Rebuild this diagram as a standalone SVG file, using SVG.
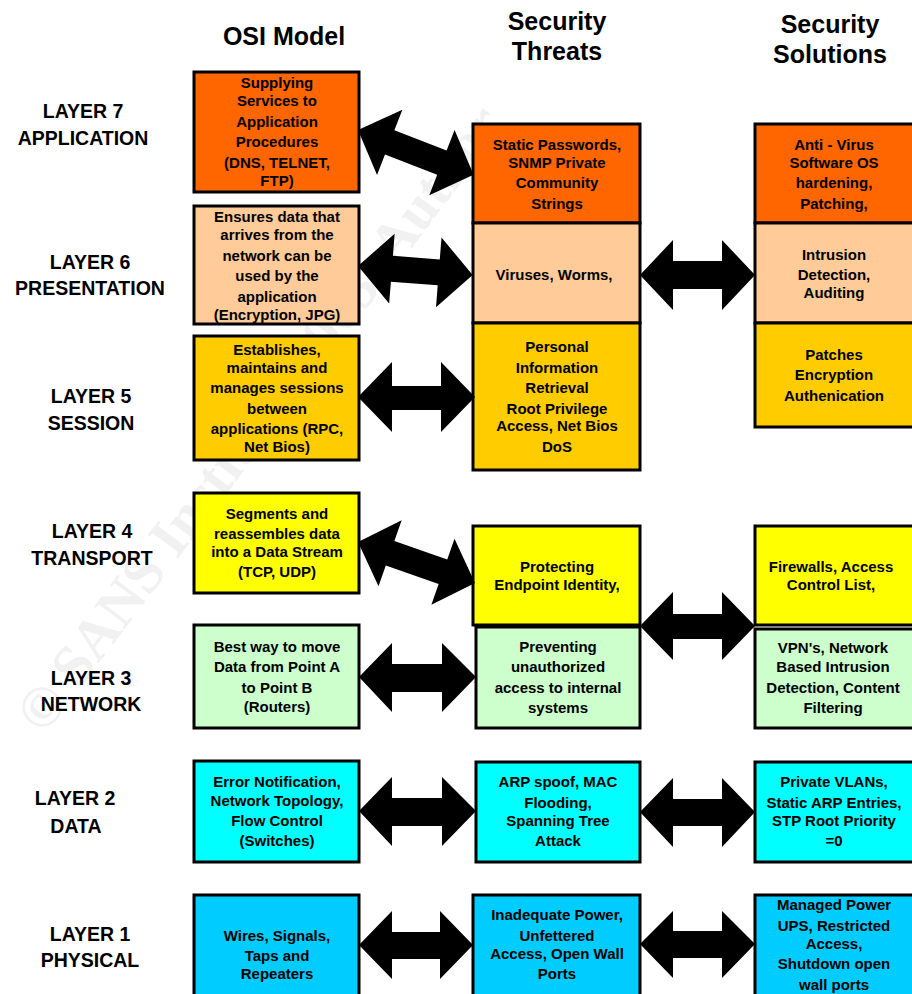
<svg xmlns="http://www.w3.org/2000/svg" width="912" height="994" viewBox="0 0 912 994">
<style>
.hdr{font-family:"Liberation Sans",Arial,sans-serif;font-weight:bold;font-size:25px;fill:#000;text-anchor:middle}
.lay{font-family:"Liberation Sans",Arial,sans-serif;font-weight:bold;font-size:19.5px;fill:#000;text-anchor:middle}
.t{font-family:"Liberation Sans",Arial,sans-serif;font-weight:bold;font-size:15px;fill:#000;text-anchor:middle}
.box{stroke:#000;stroke-width:3}
.c7{fill:#FF6600}.c6{fill:#FFCC99}.c5{fill:#FFCC00}.c4{fill:#FFFF00}.c3{fill:#CCFFCC}.c2{fill:#00FFFF}.c1{fill:#00CCFF}
.wm{font-family:"Liberation Serif",serif;font-weight:bold;font-size:58px;fill:#f1f1f1}
</style>
<defs>
<path id="arr115" d="M0,0 L34,-35 L34,-13 L81,-13 L81,-35 L115,0 L81,35 L81,13 L34,13 L34,35 Z" fill="#000"/>
<path id="arr124" d="M0,0 L34,-35 L34,-13 L90,-13 L90,-35 L124,0 L90,35 L90,13 L34,13 L34,35 Z" fill="#000"/>
</defs>
<rect width="912" height="994" fill="#fff"/>
<g id="watermark"><text class="wm" transform="translate(44,736) rotate(-53)">© SANS Institute 2003, Author</text></g>

<g id="headers">
<text class="hdr" x="284" y="45">OSI Model</text>
<text class="hdr" x="557" y="30">Security</text>
<text class="hdr" x="557" y="60">Threats</text>
<text class="hdr" x="830" y="33">Security</text>
<text class="hdr" x="830" y="63">Solutions</text>
</g>

<g id="layer-labels">
<text class="lay" x="83" y="118">LAYER 7</text><text class="lay" x="83" y="145">APPLICATION</text>
<text class="lay" x="90" y="269">LAYER 6</text><text class="lay" x="90" y="295">PRESENTATION</text>
<text class="lay" x="91" y="403">LAYER 5</text><text class="lay" x="91" y="430">SESSION</text>
<text class="lay" x="92" y="538">LAYER 4</text><text class="lay" x="92" y="565">TRANSPORT</text>
<text class="lay" x="91" y="685">LAYER 3</text><text class="lay" x="91" y="711">NETWORK</text>
<text class="lay" x="75" y="805">LAYER 2</text><text class="lay" x="76" y="833">DATA</text>
<text class="lay" x="90" y="941">LAYER 1</text><text class="lay" x="90" y="967">PHYSICAL</text>
</g>

<g id="osi7"><rect class="box c7" x="194" y="72" width="165" height="120"/>
<text class="t" x="277" y="88">Supplying</text><text class="t" x="277" y="106">Services to</text><text class="t" x="277" y="127">Application</text><text class="t" x="277" y="147">Procedures</text><text class="t" x="277" y="168">(DNS, TELNET,</text><text class="t" x="277" y="186">FTP)</text></g>
<g id="osi6"><rect class="box c6" x="194" y="206" width="165" height="118"/>
<text class="t" x="277" y="222">Ensures data that</text><text class="t" x="277" y="240">arrives from the</text><text class="t" x="277" y="261">network can be</text><text class="t" x="277" y="281">used by the</text><text class="t" x="277" y="302">application</text><text class="t" x="277" y="320">(Encryption, JPG)</text></g>
<g id="osi5"><rect class="box c5" x="194" y="336" width="165" height="124"/>
<text class="t" x="277" y="355">Establishes,</text><text class="t" x="277" y="373">maintains and</text><text class="t" x="277" y="393">manages sessions</text><text class="t" x="277" y="414">between</text><text class="t" x="277" y="434">applications (RPC,</text><text class="t" x="277" y="452">Net Bios)</text></g>
<g id="osi4"><rect class="box c4" x="194" y="493" width="165" height="100"/>
<text class="t" x="277" y="519">Segments and</text><text class="t" x="277" y="539">reassembles data</text><text class="t" x="277" y="557">into a Data Stream</text><text class="t" x="277" y="577">(TCP, UDP)</text></g>
<g id="osi3"><rect class="box c3" x="194" y="625" width="165" height="103"/>
<text class="t" x="277" y="652">Best way to move</text><text class="t" x="277" y="672">Data from Point A</text><text class="t" x="277" y="693">to Point B</text><text class="t" x="277" y="712">(Routers)</text></g>
<g id="osi2"><rect class="box c2" x="194" y="761" width="165" height="101"/>
<text class="t" x="277" y="787">Error Notification,</text><text class="t" x="277" y="806">Network Topology,</text><text class="t" x="277" y="826">Flow Control</text><text class="t" x="277" y="846">(Switches)</text></g>
<g id="osi1"><rect class="box c1" x="194" y="895" width="165" height="110"/>
<text class="t" x="277" y="941">Wires, Signals,</text><text class="t" x="277" y="961">Taps and</text><text class="t" x="277" y="979">Repeaters</text></g>

<g id="threat7"><rect class="box c7" x="473" y="124" width="167" height="99"/>
<text class="t" x="557" y="150">Static Passwords,</text><text class="t" x="557" y="168">SNMP Private</text><text class="t" x="557" y="188">Community</text><text class="t" x="557" y="209">Strings</text></g>
<g id="threat6"><rect class="box c6" x="473" y="223" width="167" height="100"/>
<text class="t" x="554" y="280">Viruses, Worms,</text></g>
<g id="threat5"><rect class="box c5" x="473" y="323" width="167" height="147"/>
<text class="t" x="557" y="352">Personal</text><text class="t" x="557" y="373">Information</text><text class="t" x="557" y="393">Retrieval</text><text class="t" x="557" y="414">Root Privilege</text><text class="t" x="557" y="431">Access,  Net Bios</text><text class="t" x="557" y="452">DoS</text></g>
<g id="threat4"><rect class="box c4" x="473" y="526" width="167" height="99"/>
<text class="t" x="557" y="572">Protecting</text><text class="t" x="557" y="590">Endpoint Identity,</text></g>
<g id="threat3"><rect class="box c3" x="476" y="627" width="164" height="101"/>
<text class="t" x="558" y="652">Preventing</text><text class="t" x="558" y="672">unauthorized</text><text class="t" x="558" y="693">access to internal</text><text class="t" x="558" y="713">systems</text></g>
<g id="threat2"><rect class="box c2" x="476" y="762" width="164" height="100"/>
<text class="t" x="558" y="787">ARP spoof, MAC</text><text class="t" x="558" y="808">Flooding,</text><text class="t" x="558" y="826">Spanning Tree</text><text class="t" x="558" y="846">Attack</text></g>
<g id="threat1"><rect class="box c1" x="473" y="895" width="167" height="110"/>
<text class="t" x="557" y="920">Inadequate Power,</text><text class="t" x="557" y="941">Unfettered</text><text class="t" x="557" y="959">Access, Open Wall</text><text class="t" x="557" y="979">Ports</text></g>

<g id="sol7"><rect class="box c7" x="755" y="124" width="175" height="99"/>
<text class="t" x="834" y="150">Anti - Virus</text><text class="t" x="834" y="168">Software OS</text><text class="t" x="834" y="188">hardening,</text><text class="t" x="834" y="209">Patching,</text></g>
<g id="sol6"><rect class="box c6" x="755" y="223" width="175" height="100"/>
<text class="t" x="834" y="260">Intrusion</text><text class="t" x="834" y="280">Detection,</text><text class="t" x="834" y="298">Auditing</text></g>
<g id="sol5"><rect class="box c5" x="755" y="323" width="175" height="104"/>
<text class="t" x="834" y="360">Patches</text><text class="t" x="834" y="380">Encryption</text><text class="t" x="834" y="401">Authenication</text></g>
<g id="sol4"><rect class="box c4" x="755" y="526" width="175" height="99"/>
<text class="t" x="831" y="572">Firewalls, Access</text><text class="t" x="831" y="590">Control List,</text></g>
<g id="sol3"><rect class="box c3" x="755" y="629" width="175" height="99"/>
<text class="t" x="833" y="653">VPN's, Network</text><text class="t" x="833" y="672">Based Intrusion</text><text class="t" x="833" y="693">Detection, Content</text><text class="t" x="833" y="713">Filtering</text></g>
<g id="sol2"><rect class="box c2" x="755" y="762" width="175" height="100"/>
<text class="t" x="834" y="787">Private VLANs,</text><text class="t" x="834" y="808">Static ARP Entries,</text><text class="t" x="834" y="826">STP Root Priority</text><text class="t" x="834" y="846">=0</text></g>
<g id="sol1"><rect class="box c1" x="755" y="895" width="175" height="110"/>
<text class="t" x="834" y="910">Managed Power</text><text class="t" x="834" y="931">UPS, Restricted</text><text class="t" x="834" y="949">Access,</text><text class="t" x="834" y="969">Shutdown open</text><text class="t" x="834" y="990">wall ports</text></g>

<g id="connectors">
<use href="#arr124" transform="translate(358,130) rotate(21.2)"/>
<use href="#arr115" transform="translate(358,266) rotate(4.5)"/>
<path d="M358,397 L392,362 L392,386 L441,386 L441,362 L475,397 L441,432 L441,410 L392,410 L392,432 Z" fill="#000"/>
<use href="#arr124" transform="translate(358,542) rotate(19.3)"/>
<path d="M359,677 L392,643 L392,664 L442,664 L442,643 L476,677 L442,712 L442,692 L392,692 L392,712 Z" fill="#000"/>
<path d="M359,811 L392,777 L392,798 L442,798 L442,777 L476,811 L442,846 L442,826 L392,826 L392,846 Z" fill="#000"/>
<path d="M359,945 L392,911 L392,932 L440,932 L440,911 L473,945 L440,979 L440,959 L392,959 L392,979 Z" fill="#000"/>
<path d="M640,275 L673,240 L673,261 L722,261 L722,240 L755,275 L722,310 L722,289 L673,289 L673,310 Z" fill="#000"/>
<path d="M640,626 L673,592 L673,614 L722,614 L722,592 L755,626 L722,660 L722,639 L673,639 L673,660 Z" fill="#000"/>
<path d="M640,812 L673,778 L673,799 L722,799 L722,778 L755,812 L722,847 L722,826 L673,826 L673,847 Z" fill="#000"/>
<path d="M640,944 L673,911 L673,931 L722,931 L722,911 L755,944 L722,978 L722,958 L673,958 L673,978 Z" fill="#000"/>
</g>
</svg>
